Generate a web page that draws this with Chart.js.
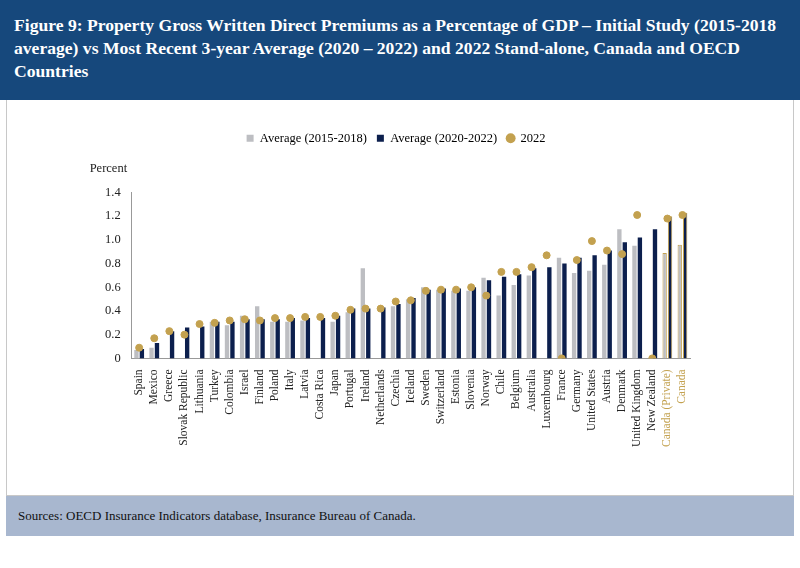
<!DOCTYPE html>
<html><head><meta charset="utf-8">
<script src="https://cdn.jsdelivr.net/npm/chart.js@4"></script>
<style>
body{margin:0;width:800px;height:568px;background:#fff;font-family:"Liberation Serif","DejaVu Serif",serif;position:relative;overflow:hidden}
#hdr{position:absolute;left:0;top:0;width:800px;height:100px;background:#16487c;color:#fff;font-weight:bold;font-size:17.6px;line-height:23px;padding:14px 14px 0 14px;box-sizing:border-box}
#box{position:absolute;left:6px;top:100px;width:788px;height:396px;border:1px solid #c8c8c8;border-top:none;box-sizing:border-box}
#ftr{position:absolute;left:6px;top:496px;width:788px;height:40px;background:#a8b7cf;font-size:13px;padding:12px 0 0 12px;box-sizing:border-box;color:#111}
#wrap{position:absolute;left:20px;top:120px;width:690px;height:330px}
</style></head><body>
<div id="hdr">Figure 9: Property Gross Written Direct Premiums as a Percentage of GDP – Initial Study (2015-2018 average) vs Most Recent 3-year Average (2020 – 2022) and 2022 Stand-alone, Canada and OECD Countries</div>
<div id="box"></div>
<div id="ftr">Sources: OECD Insurance Indicators database, Insurance Bureau of Canada.</div>
<div id="wrap"><canvas id="c"></canvas></div>
<script>
const categories=["Spain","Mexico","Greece","Slovak Republic","Lithuania","Turkey","Colombia","Israel","Finland","Poland","Italy","Latvia","Costa Rica","Japan","Portugal","Ireland","Netherlands","Czechia","Iceland","Sweden","Switzerland","Estonia","Slovenia","Norway","Chile","Belgium","Australia","Luxembourg","France","Germany","United States","Austria","Denmark","United Kingdom","New Zealand","Canada (Private)","Canada"];
const avg1518=[0.07,0.09,null,null,null,0.31,0.28,0.36,0.44,0.31,0.31,0.32,null,0.31,0.39,0.76,null,0.44,0.50,0.60,0.58,0.57,0.57,0.68,0.53,0.62,0.70,null,0.85,0.72,0.74,0.79,1.09,0.95,null,0.89,0.96];
const avg2022=[0.08,0.13,0.23,0.26,0.27,0.31,0.31,0.33,0.33,0.33,0.34,0.34,0.34,0.36,0.42,0.42,0.43,0.46,0.51,0.58,0.59,0.59,0.60,0.66,0.69,0.71,0.76,0.77,0.80,0.85,0.87,0.91,0.98,1.02,1.09,1.20,1.23];
const y2022=[0.09,0.17,0.23,0.20,0.29,0.30,0.32,0.33,0.32,0.34,0.34,0.35,0.35,0.36,0.41,0.42,0.42,0.48,0.49,0.57,0.58,0.58,0.60,0.53,0.73,0.73,0.77,0.87,0.00,0.83,0.99,0.91,0.88,1.21,0.00,1.18,1.21];
const yTicks=[0,0.2,0.4,0.6,0.8,1.0,1.2,1.4];
const isCan=i=>categories[i].startsWith("Canada");
const gold="#c3a14f";
new Chart(document.getElementById('c'),{
 type:'bar',
 data:{labels:categories,datasets:[
  {label:"Average (2015-2018)",data:avg1518,backgroundColor:"#bdbec2",borderColor:categories.map((c,i)=>isCan(i)?gold:"#bdbec2"),borderWidth:categories.map((c,i)=>isCan(i)?1:0),categoryPercentage:0.72,barPercentage:0.8,order:2},
  {label:"Average (2020-2022)",data:avg2022,backgroundColor:"#0c1f4d",borderColor:categories.map((c,i)=>isCan(i)?gold:"#0c1f4d"),borderWidth:categories.map((c,i)=>isCan(i)?1:0),categoryPercentage:0.72,barPercentage:0.8,order:2},
  {type:'line',label:"2022",data:y2022,showLine:false,pointRadius:3.5,pointHoverRadius:3.5,pointBackgroundColor:gold,pointBorderColor:gold,backgroundColor:gold,pointStyle:'circle',order:1}
 ]},
 options:{responsive:true,maintainAspectRatio:false,animation:false,
  layout:{padding:{left:82,right:20,top:2}},
  plugins:{legend:{position:'top',labels:{usePointStyle:true,boxWidth:7,boxHeight:7,font:{family:"Liberation Serif",size:12.5},color:'#222',generateLabels:ch=>ch.data.datasets.map((d,i)=>({text:d.label,fillStyle:i==0?"#bdbec2":i==1?"#0c1f4d":gold,strokeStyle:'transparent',lineWidth:0,pointStyle:i==2?'circle':'rect',datasetIndex:i}))}},tooltip:{enabled:false}},
  scales:{
   x:{grid:{display:false},border:{color:'#999'},ticks:{autoSkip:false,maxRotation:90,minRotation:90,font:{family:"Liberation Serif",size:11.5},color:c=>isCan(c.index)?gold:'#222'}},
   y:{min:0,max:1.4,afterBuildTicks:a=>{a.ticks=yTicks.map(v=>({value:v}))},grid:{display:false},border:{color:'#999'},ticks:{font:{family:"Liberation Serif",size:12.5},color:'#222',callback:v=>v===0?'0':v.toFixed(1)}}
  }
 },
 plugins:[{id:'legpad',beforeInit(ch){const f=ch.legend.fit;ch.legend.fit=function(){f.bind(ch.legend)();this.height+=38;};}},
  {id:'pct',afterDraw(ch){const c=ch.ctx;c.save();c.font='12.5px "Liberation Serif"';c.fillStyle='#222';c.fillText('Percent',ch.chartArea.left-42,ch.chartArea.top-24);c.restore();}}]
});
</script></body></html>
